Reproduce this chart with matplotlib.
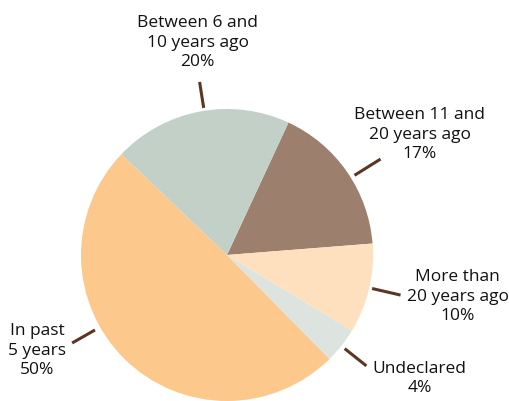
import numpy as np
import matplotlib.pyplot as plt

# slice data, counterclockwise from the right
labels = ['Between 11 and\n20 years ago', 'Between 6 and\n10 years ago', 'In past\n5 years',
          'Undeclared', 'More than\n20 years ago']
shares = [17, 20, 50, 4, 10]
colors = ['#9c806d', '#c2d0c8', '#fdc88c', '#dde3de', '#fee0bf']

# label layout: text centre, leader line start/end (angle in deg, radius)
text_pos = [(1.32, 0.83), (-0.20, 1.46), (-1.30, -0.65), (1.32, -0.84), (1.58, -0.28)]
line_ang = [32, 99, 209.6, -38.5, -13]
line_r = [(1.03, 1.24), (1.02, 1.20), (1.04, 1.22), (1.03, 1.22), (1.02, 1.22)]

plt.rcParams['font.family'] = ['Open Sans', 'DejaVu Sans']

fig = plt.figure(figsize=(5.10, 4.02), dpi=100)
ax = fig.add_axes([0, 0, 1, 1])

wedges, _ = ax.pie(shares, colors=colors, startangle=4.5, counterclock=True,
                   radius=1, center=(0, 0), wedgeprops=dict(linewidth=0))

for lab, s, (tx, ty), a, (r0, r1) in zip(labels, shares, text_pos, line_ang, line_r):
    ax.text(tx, ty, lab + '\n' + str(s) + '%', ha='center', va='center',
            fontsize=12.5, color='#111111', linespacing=1.3)
    t = np.deg2rad(a)
    ax.plot([r0 * np.cos(t), r1 * np.cos(t)], [r0 * np.sin(t), r1 * np.sin(t)],
            color='#5a3722', linewidth=2.2, solid_capstyle='butt')

ax.set_xlim(-227 / 146, (510 - 227) / 146)
ax.set_ylim((256 - 402) / 146, 256 / 146)
ax.set_aspect('equal')
ax.axis('off')

fig.savefig('out.png', dpi=100)
